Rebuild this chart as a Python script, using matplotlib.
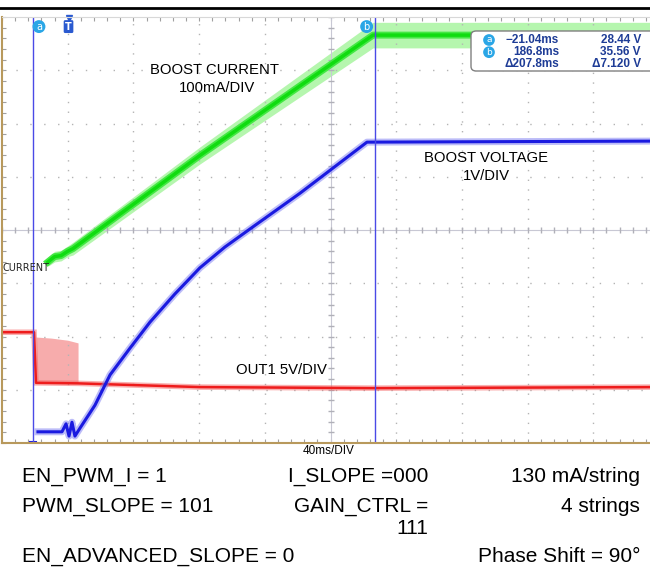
import numpy as np
import matplotlib
matplotlib.use("Agg")
import matplotlib.pyplot as plt
from matplotlib.lines import Line2D
from matplotlib.patches import FancyBboxPatch

plt.rcParams['font.family'] = ['Liberation Sans', 'DejaVu Sans']

# time in ms (40 ms/div), vertical in scope divisions (0..8)
green_t = [-12.0, -8.0, -4.0, 0.0, 3.2, 80.5, 185.9, 360.0]
green_v = [3.40, 3.50, 3.52, 3.60, 3.65, 5.40, 7.66, 7.66]
green_spread = [0.08, 0.10, 0.10, 0.10, 0.12, 0.16, 0.24, 0.24]

blue_t = [-18.1, -3.5, -1.0, 0.8, 2.6, 4.4, 7.5, 16.6, 25.8, 37.9, 50.1, 65.3, 80.5,
          95.7, 111.0, 141.4, 182.2, 360.0]
blue_v = [0.21, 0.21, 0.36, 0.13, 0.39, 0.13, 0.28, 0.71, 1.28, 1.78, 2.27, 2.80, 3.29,
          3.68, 4.02, 4.69, 5.65, 5.67]

red_t = [-40.0, -20.5, -19.3, 6.3, 80.5, 186.5, 360.0]
red_v = [2.08, 2.08, 1.13, 1.12, 1.05, 1.03, 1.05]

pink_t = [-19.3, -10.0, 0.0, 6.3]
pink_top = [1.99, 1.97, 1.93, 1.88]
pink_bot = [1.13, 1.13, 1.12, 1.12]

cursor_a, cursor_b = -21.04, 186.8

fig = plt.figure(figsize=(6.5, 5.76), dpi=100)
fig.add_artist(Line2D([0, 1], [1 - 8 / 576, 1 - 8 / 576], color='black', lw=2))

ax = fig.add_axes([2 / 650, (576 - 443) / 576, 657 / 650, 426 / 576])
ax.set_xlim(-40, 360)
ax.set_ylim(0, 8)

# grid
for gx in np.arange(0, 360, 40):
    if gx == 160:
        continue
    ax.axvline(gx, color='#b4b4b4', lw=1, ls=(0, (1, 6)))
for gy in range(1, 8):
    if gy == 4:
        continue
    ax.axhline(gy, color='#b4b4b4', lw=1, ls=(0, (1, 9)))
ax.axhline(4, color='#c8c8d4', lw=0.8)
ax.axvline(160, color='#c8c8d4', lw=0.8)
ax.plot(np.arange(-40, 361, 8), [4] * 51, ls='none', marker='|', ms=5, color='#b0b0b8')
ax.plot([160] * 41, np.arange(0, 8.01, 0.2), ls='none', marker='_', ms=5, color='#b0b0b8')

ax.set_xticks(np.arange(-40, 361, 8))
ax.set_yticks(np.arange(0, 8.01, 0.2))
ax.tick_params(direction='in', length=3, color='#a0a0a0', labelbottom=False, labelleft=False,
               top=True, right=False)
for s in ['left', 'bottom']:
    ax.spines[s].set_color('#b8995c')
    ax.spines[s].set_linewidth(1.5)
ax.spines['top'].set_color('#d8d8d8')
ax.spines['right'].set_visible(False)

# red trace (OUT1)
ax.fill_between(pink_t, pink_bot, pink_top, color='#f7a3a3', lw=0, alpha=0.9)
ax.plot(red_t, red_v, color='#f46060', lw=4, alpha=0.5, solid_joinstyle='miter')
ax.plot(red_t, red_v, color='#ee1c1c', lw=1.8)

# green trace (boost current)
gv = np.array(green_v)
gs = np.array(green_spread)
ax.fill_between(green_t, gv - gs, gv + gs, color='#a8f5a0', lw=0, alpha=0.85)
ax.plot(green_t, green_v, color='#44e844', lw=5)
ax.plot(green_t, green_v, color='#10dc10', lw=2.5)

# blue trace (boost voltage)
ax.plot([-23.0, -19.5], [0.02, 0.02], color='#2020dd', lw=1.5)
ax.plot(blue_t, blue_v, color='#7a7af2', lw=5, alpha=0.5)
ax.plot(blue_t, blue_v, color='#1a1ae0', lw=2.2)

# cursors
ax.axvline(cursor_a, color='#4a4ae6', lw=1)
ax.axvline(cursor_b, color='#4a4ae6', lw=1)
circ = dict(boxstyle='circle,pad=0.15', fc='#2aa6e6', ec='none')
ax.text(-17.5, 7.82, 'a', color='white', fontsize=7, ha='center', va='center', bbox=circ,
        family='DejaVu Sans')
ax.text(182.0, 7.82, 'b', color='white', fontsize=7, ha='center', va='center', bbox=circ,
        family='DejaVu Sans')
ax.text(0.5, 7.82, 'T', color='white', fontsize=7, fontweight='bold', ha='center', va='center',
        bbox=dict(boxstyle='round,pad=0.15', fc='#2a5ad0', ec='none'), family='DejaVu Sans')
ax.plot([0.5], [7.98], marker='v', color='#2a5ad0', ms=4, ls='none', clip_on=False)

# trace labels
ax.text(89.5, 7.00, 'BOOST CURRENT', fontsize=10.7, ha='center', va='center')
ax.text(91.0, 6.67, '100mA/DIV', fontsize=10.7, ha='center', va='center')
ax.text(255, 5.35, 'BOOST VOLTAGE', fontsize=10.7, ha='center', va='center')
ax.text(255, 5.01, '1V/DIV', fontsize=10.7, ha='center', va='center')
ax.text(130, 1.37, 'OUT1 5V/DIV', fontsize=10.7, ha='center', va='center')
ax.text(-39.5, 3.28, 'CURRENT', fontsize=7, ha='left', va='center', color='#222222',
        family='DejaVu Sans')

# measurement readout box
W, H = 650, 576
box = FancyBboxPatch((471 / W, 1 - 71 / H), 190 / W, 40 / H,
                     boxstyle='round,pad=0,rounding_size=0.008', transform=fig.transFigure,
                     fc='white', ec='#808080', lw=1)
fig.add_artist(box)
tc = '#1e3c96'
rows = [('a', '\u221221.04ms', '28.44 V'), ('b', '186.8ms', '35.56 V'),
        (None, '\u0394207.8ms', '\u03947.120 V')]
for i, (lab, t, v) in enumerate(rows):
    yy = 1 - (40 + i * 12.2) / H
    if lab:
        fig.text(489 / W, yy, lab, color='white', fontsize=6.5, ha='center', va='center',
                 bbox=circ, family='DejaVu Sans')
    fig.text(559 / W, yy, t, color=tc, fontsize=8.5, fontweight='bold', ha='right', va='center')
    fig.text(641 / W, yy, v, color=tc, fontsize=8.5, fontweight='bold', ha='right', va='center')

fig.text(329 / W, 1 - 451 / H, '40ms/DIV', fontsize=8.5, ha='center', va='center')

# bottom settings text
fs = 15
fig.text(22 / W, 1 - 477 / H, 'EN_PWM_I = 1', fontsize=fs, ha='left', va='center')
fig.text(428 / W, 1 - 477 / H, 'I_SLOPE =000', fontsize=fs, ha='right', va='center')
fig.text(640 / W, 1 - 477 / H, '130 mA/string', fontsize=fs, ha='right', va='center')
fig.text(22 / W, 1 - 506 / H, 'PWM_SLOPE = 101', fontsize=fs, ha='left', va='center')
fig.text(428 / W, 1 - 506 / H, 'GAIN_CTRL =', fontsize=fs, ha='right', va='center')
fig.text(428 / W, 1 - 529 / H, '111', fontsize=fs, ha='right', va='center')
fig.text(640 / W, 1 - 506 / H, '4 strings', fontsize=fs, ha='right', va='center')
fig.text(22 / W, 1 - 557 / H, 'EN_ADVANCED_SLOPE = 0', fontsize=fs, ha='left', va='center')
fig.text(640 / W, 1 - 557 / H, 'Phase Shift = 90\u00b0', fontsize=fs, ha='right', va='center')

fig.savefig('out.png', dpi=100)
